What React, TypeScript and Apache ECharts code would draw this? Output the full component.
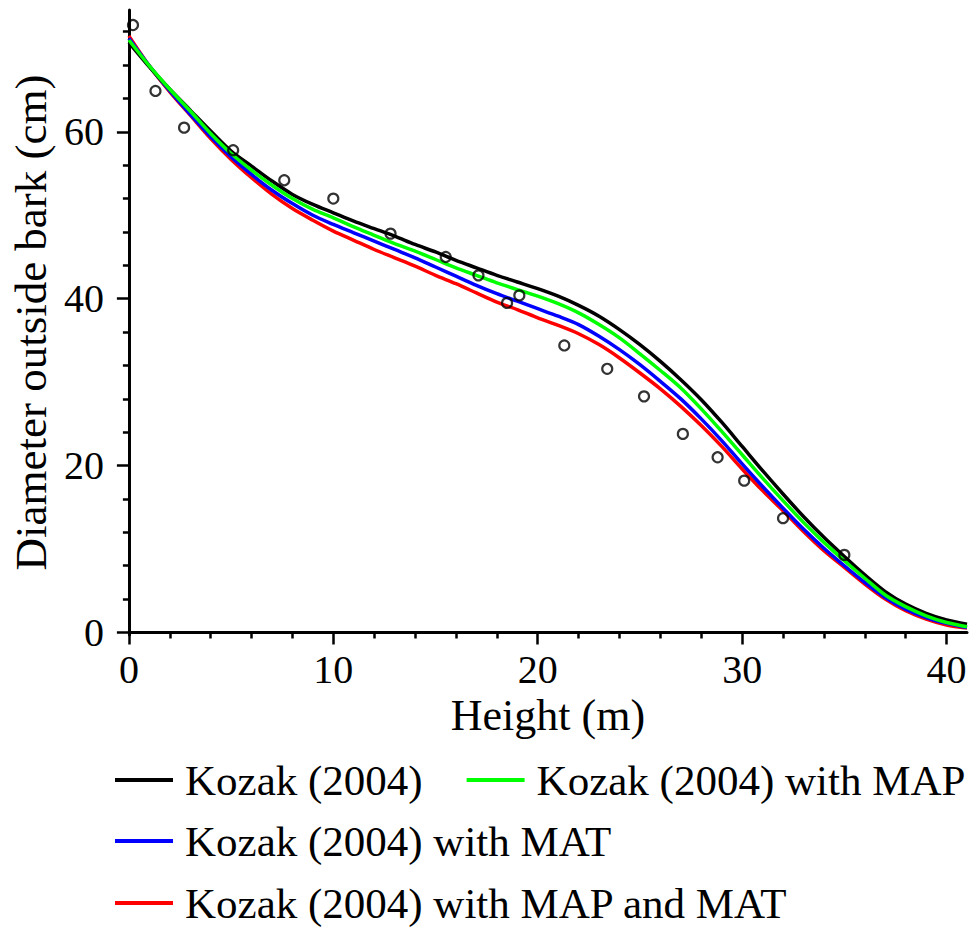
import React, { useEffect, useRef } from 'react';
import * as echarts from 'echarts';

// Heights (m) at which the fitted taper curves are read
const heights = [0, 1, 2, 3, 4, 5, 6, 7, 8, 9, 10, 11, 12, 13, 14, 15, 16, 17, 18, 19, 20, 21, 22, 23, 24, 25, 26, 27, 28, 29, 30, 31, 32, 33, 34, 35, 36, 37, 38, 39, 40, 41];

// Diameter outside bark (cm)
const kozak = [70.7, 67.8, 65.1, 62.6, 60.1, 57.7, 55.9, 54.1, 52.5, 51.3, 50.3, 49.3, 48.4, 47.5, 46.5, 45.6, 44.6, 43.7, 42.8, 42.0, 41.2, 40.3, 39.2, 37.9, 36.3, 34.5, 32.5, 30.3, 27.9, 25.2, 22.3, 19.4, 16.6, 13.9, 11.4, 9.1, 6.9, 4.9, 3.4, 2.3, 1.5, 1.0];
const kozakMAP = [71.0, 67.9, 65.1, 62.5, 59.8, 57.4, 55.4, 53.6, 52.0, 50.7, 49.7, 48.6, 47.6, 46.6, 45.7, 44.7, 43.7, 42.8, 41.9, 41.1, 40.3, 39.4, 38.3, 36.9, 35.3, 33.4, 31.4, 29.3, 26.8, 24.1, 21.3, 18.5, 15.8, 13.2, 10.8, 8.6, 6.5, 4.5, 3.1, 2.0, 1.2, 0.7];
const kozakMAT = [71.2, 67.9, 64.9, 62.1, 59.4, 57.0, 54.9, 53.0, 51.4, 50.0, 48.9, 47.9, 46.9, 45.9, 44.9, 43.8, 42.7, 41.6, 40.6, 39.7, 38.8, 37.9, 36.9, 35.5, 33.9, 32.1, 30.1, 28.0, 25.6, 23.0, 20.2, 17.5, 14.9, 12.4, 10.1, 8.0, 6.0, 4.2, 2.8, 1.8, 1.1, 0.6];
const kozakMAPMAT = [71.5, 67.9, 64.8, 62.0, 59.2, 56.7, 54.5, 52.5, 50.8, 49.4, 48.1, 47.0, 45.9, 44.9, 43.9, 42.8, 41.8, 40.7, 39.6, 38.7, 37.7, 36.8, 35.8, 34.5, 32.9, 31.1, 29.2, 27.1, 24.8, 22.3, 19.6, 17.0, 14.6, 12.1, 9.8, 7.8, 5.8, 4.0, 2.6, 1.6, 0.9, 0.55];

// Observed stem measurements
const obsHeight = [0.2, 1.3, 2.7, 5.1, 7.6, 10.0, 12.8, 15.5, 17.1, 18.5, 19.1, 21.3, 23.4, 25.2, 27.1, 28.8, 30.1, 32.0, 35.0];
const obsDiameter = [72.8, 64.9, 60.5, 57.8, 54.2, 52.0, 47.8, 45.0, 42.8, 39.5, 40.4, 34.4, 31.6, 28.3, 23.8, 21.0, 18.2, 13.7, 9.3];

// Axis ticks
const xMajorTicks = [0, 10, 20, 30, 40];
const xMinorTicks = [2, 4, 6, 8, 12, 14, 16, 18, 22, 24, 26, 28, 32, 34, 36, 38];
const yMajorTicks = [0, 20, 40, 60];
const yMinorTicks = [4, 8, 12, 16, 24, 28, 32, 36, 44, 48, 52, 56, 64, 68, 72];

const seriesNames = ['Kozak (2004)', 'Kozak (2004) with MAP', 'Kozak (2004) with MAT', 'Kozak (2004) with MAP and MAT'];
const seriesColors = ['#000000', '#00ff00', '#0000ff', '#ff0000'];

const FONT = 'Liberation Serif';
const X_MIN = 0, X_MAX = 41, Y_MIN = -0.3, Y_MAX = 74.6;

export default function App() {
  const ref = useRef<HTMLDivElement>(null);
  useEffect(() => {
    document.body.style.margin = '0';
    if (!ref.current) return;
    const chart = echarts.init(ref.current, undefined, { renderer: 'svg' });
    const zip = (ys: number[]) => heights.map((h, i) => [h, ys[i]]);
    const curves = [kozak, kozakMAP, kozakMAT, kozakMAPMAT];
    const drawOrder = [3, 2, 0, 1];
    const lineSeries = drawOrder.map((i) => ({
      name: seriesNames[i],
      type: 'line',
      data: zip(curves[i]),
      smooth: 0.3,
      showSymbol: false,
      symbol: 'none',
      color: seriesColors[i],
      lineStyle: { color: seriesColors[i], width: 3.5 },
      xAxisIndex: 0,
      yAxisIndex: 0,
      z: 2,
    }));
    const baseAxisLine = { show: true, lineStyle: { color: '#000', width: 3 } };
    const legendText = { fontFamily: FONT, fontSize: 43, color: '#000', lineHeight: 50, padding: [0, 0, 0, 7] };
    const legendCommon = {
      orient: 'horizontal',
      icon: 'rect',
      itemWidth: 58,
      itemHeight: 4,
      padding: 0,
      itemGap: 44,
      width: 900,
      textStyle: legendText,
      selectedMode: false,
    };
    chart.setOption({
      animation: false,
      backgroundColor: '#ffffff',
      grid: { left: 125, right: 6, top: 10, bottom: 293, containLabel: false },
      xAxis: [
        {
          type: 'value', min: X_MIN, max: X_MAX, position: 'bottom',
          name: 'Height (m)', nameLocation: 'middle', nameGap: 20,
          nameTextStyle: { fontFamily: FONT, fontSize: 44, color: '#000', verticalAlign: 'top' },
          axisLine: baseAxisLine,
          axisTick: { show: true, inside: false, length: 12, customValues: xMajorTicks, lineStyle: { color: '#000', width: 2.5 } },
          axisLabel: { show: true, customValues: xMajorTicks, margin: 14, fontFamily: FONT, fontSize: 40, color: '#000' },
          splitLine: { show: false },
        },
        {
          type: 'value', min: X_MIN, max: X_MAX, position: 'bottom',
          axisLine: { show: false },
          axisTick: { show: true, inside: false, length: 6, customValues: xMinorTicks, lineStyle: { color: '#000', width: 2.5 } },
          axisLabel: { show: false },
          splitLine: { show: false },
        },
      ],
      yAxis: [
        {
          type: 'value', min: Y_MIN, max: Y_MAX, position: 'left',
          name: 'Diameter outside bark (cm)', nameLocation: 'middle', nameGap: 71,
          nameTextStyle: { fontFamily: FONT, fontSize: 45, color: '#000' },
          axisLine: baseAxisLine,
          axisTick: { show: true, inside: false, length: 12, customValues: yMajorTicks, lineStyle: { color: '#000', width: 2.5 } },
          axisLabel: { show: true, customValues: yMajorTicks, margin: 25, fontFamily: FONT, fontSize: 40, color: '#000' },
          splitLine: { show: false },
        },
        {
          type: 'value', min: Y_MIN, max: Y_MAX, position: 'left',
          axisLine: { show: false },
          axisTick: { show: true, inside: false, length: 6, customValues: yMinorTicks, lineStyle: { color: '#000', width: 2.5 } },
          axisLabel: { show: false },
          splitLine: { show: false },
        },
      ],
      legend: [
        { ...legendCommon, data: [seriesNames[0], seriesNames[1]], left: 115, top: 755 },
        { ...legendCommon, data: [seriesNames[2]], left: 115, top: 816 },
        { ...legendCommon, data: [seriesNames[3]], left: 115, top: 878 },
      ],
      series: [
        ...lineSeries,
        {
          name: 'Observed',
          type: 'scatter',
          data: obsHeight.map((h, i) => [h, obsDiameter[i]]),
          symbol: 'circle',
          symbolSize: 10,
          itemStyle: { color: 'rgba(255,255,255,0)', borderColor: '#000', borderWidth: 2.2 },
          xAxisIndex: 0,
          yAxisIndex: 0,
          z: 3,
        },
      ],
    });
    return () => chart.dispose();
  }, []);
  return <div ref={ref} style={{ width: 973, height: 928 }} />;
}
